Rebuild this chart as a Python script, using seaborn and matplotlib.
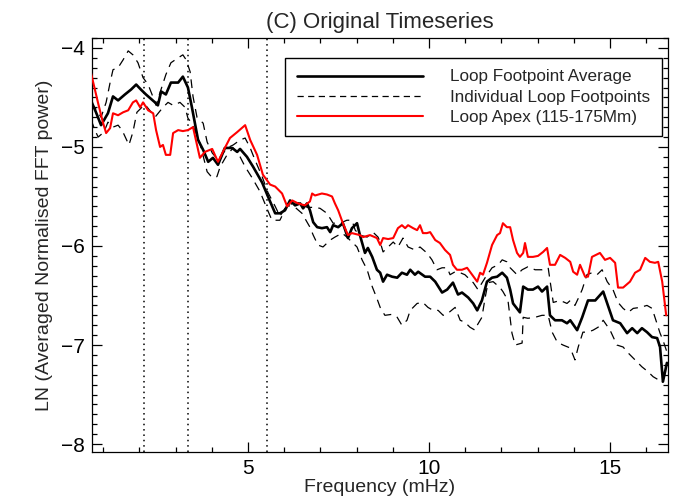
import matplotlib
matplotlib.use("Agg")
import matplotlib.pyplot as plt
import seaborn as sns
import pandas as pd
from matplotlib.ticker import MultipleLocator
from matplotlib.lines import Line2D

# ---------------- data ----------------
avg_freq = [0.66, 0.80, 0.94, 1.13, 1.27, 1.41, 1.60, 1.77, 1.91, 2.04,
            2.18, 2.43, 2.51, 2.60, 2.73, 2.87, 3.07, 3.20, 3.34, 3.45,
            3.62, 3.76, 3.90, 4.03, 4.17, 4.36, 4.56, 4.70, 4.78, 4.97,
            5.14, 5.39, 5.55, 5.75, 5.88, 6.02, 6.16, 6.30, 6.44, 6.52,
            6.63, 6.71, 6.80, 6.91, 7.04, 7.18, 7.27, 7.35, 7.49, 7.62,
            7.76, 7.87, 8.01, 8.09, 8.23, 8.31, 8.43, 8.56, 8.65, 8.73,
            8.84, 8.98, 9.12, 9.25, 9.39, 9.48, 9.61, 9.70, 9.89, 10.03,
            10.17, 10.36, 10.50, 10.66, 10.80, 10.91, 11.08, 11.22, 11.33, 11.46,
            11.60, 11.74, 11.88, 12.02, 12.15, 12.24, 12.32, 12.51, 12.60, 12.73,
            12.87, 13.01, 13.12, 13.26, 13.34, 13.48, 13.67, 13.81, 13.90, 14.09,
            14.23, 14.39, 14.59, 14.81, 14.94, 15.08, 15.28, 15.47, 15.61, 15.75,
            15.88, 16.02, 16.16, 16.30, 16.38, 16.46, 16.57]
avg_power = [-4.53, -4.65, -4.78, -4.66, -4.49, -4.53, -4.47, -4.42, -4.37, -4.42,
             -4.47, -4.55, -4.58, -4.44, -4.47, -4.35, -4.35, -4.29, -4.40, -4.60,
             -4.93, -5.03, -5.15, -5.11, -5.18, -5.01, -5.01, -5.05, -5.02, -5.10,
             -5.20, -5.36, -5.50, -5.67, -5.67, -5.64, -5.54, -5.59, -5.57, -5.62,
             -5.57, -5.64, -5.76, -5.81, -5.82, -5.81, -5.86, -5.79, -5.81, -5.77,
             -5.92, -5.82, -5.77, -5.89, -6.07, -6.02, -6.11, -6.24, -6.27, -6.36,
             -6.29, -6.31, -6.32, -6.27, -6.29, -6.24, -6.29, -6.26, -6.31, -6.31,
             -6.36, -6.47, -6.44, -6.37, -6.49, -6.47, -6.52, -6.58, -6.65, -6.55,
             -6.36, -6.32, -6.31, -6.27, -6.32, -6.44, -6.58, -6.67, -6.41, -6.44,
             -6.44, -6.41, -6.46, -6.41, -6.70, -6.75, -6.75, -6.78, -6.75, -6.85,
             -6.72, -6.55, -6.55, -6.46, -6.60, -6.75, -6.78, -6.88, -6.83, -6.88,
             -6.83, -6.87, -6.92, -6.93, -7.02, -7.37, -7.18]

apex_freq = [0.66, 0.77, 0.86, 0.99, 1.08, 1.19, 1.27, 1.41, 1.55, 1.69,
             1.82, 1.91, 2.02, 2.10, 2.24, 2.38, 2.46, 2.57, 2.65, 2.73,
             2.85, 2.93, 3.07, 3.20, 3.34, 3.48, 3.67, 3.81, 4.01, 4.17,
             4.36, 4.50, 4.70, 4.92, 5.06, 5.25, 5.41, 5.61, 5.75, 5.94,
             6.08, 6.22, 6.38, 6.57, 6.71, 6.77, 6.85, 7.04, 7.18, 7.32,
             7.40, 7.49, 7.62, 7.76, 7.87, 8.09, 8.18, 8.37, 8.56, 8.65,
             8.73, 8.87, 9.01, 9.14, 9.25, 9.34, 9.42, 9.56, 9.67, 9.75,
             9.83, 9.94, 10.03, 10.17, 10.30, 10.44, 10.58, 10.66, 10.77, 10.91,
             11.05, 11.19, 11.33, 11.41, 11.49, 11.60, 11.74, 11.88, 11.96, 12.04,
             12.15, 12.24, 12.32, 12.43, 12.51, 12.60, 12.65, 12.73, 12.87, 13.01,
             13.15, 13.26, 13.34, 13.48, 13.62, 13.76, 13.90, 13.98, 14.09, 14.17,
             14.31, 14.39, 14.50, 14.72, 14.86, 15.00, 15.14, 15.22, 15.36, 15.55,
             15.69, 15.83, 15.97, 16.10, 16.24, 16.33, 16.44, 16.55]
apex_power = [-4.25, -4.42, -4.56, -4.75, -4.86, -4.81, -4.66, -4.68, -4.65, -4.63,
              -4.55, -4.53, -4.60, -4.55, -4.63, -4.66, -4.83, -5.00, -4.98, -5.08,
              -5.08, -4.86, -4.83, -4.84, -4.83, -4.80, -5.11, -5.05, -5.02, -5.15,
              -5.01, -4.91, -4.85, -4.78, -4.93, -5.08, -5.28, -5.38, -5.40, -5.47,
              -5.60, -5.54, -5.57, -5.59, -5.55, -5.47, -5.49, -5.47, -5.48, -5.50,
              -5.57, -5.64, -5.77, -5.89, -5.87, -5.89, -5.91, -5.89, -5.92, -5.99,
              -5.92, -5.93, -5.92, -5.82, -5.79, -5.82, -5.79, -5.82, -5.84, -5.79,
              -5.87, -5.87, -5.86, -5.94, -5.97, -6.04, -6.09, -6.19, -6.24, -6.24,
              -6.22, -6.29, -6.36, -6.27, -6.29, -6.17, -5.99, -5.89, -5.87, -5.77,
              -5.81, -5.81, -5.94, -6.07, -6.11, -6.07, -5.97, -6.11, -6.11, -6.10,
              -6.06, -6.02, -6.19, -6.19, -6.09, -6.12, -6.16, -6.26, -6.29, -6.19,
              -6.31, -6.31, -6.11, -6.07, -6.14, -6.12, -6.17, -6.42, -6.42, -6.36,
              -6.27, -6.24, -6.12, -6.16, -6.17, -6.16, -6.36, -6.70]

fp1_freq = [0.66, 0.80, 0.94, 1.08, 1.19, 1.27, 1.41, 1.55, 1.69, 1.82,
            1.96, 2.10, 2.24, 2.38, 2.46, 2.57, 2.73, 2.87, 3.07, 3.20,
            3.29, 3.40, 3.48, 3.59, 3.76, 3.87, 4.01, 4.17, 4.42, 4.59,
            4.78, 4.92, 5.06, 5.19, 5.39, 5.55, 5.75, 5.88, 6.02, 6.22,
            6.49, 6.63, 6.85, 6.99, 7.18, 7.35, 7.54, 7.73, 7.87, 7.96,
            8.09, 8.29, 8.45, 8.59, 8.65, 8.73, 8.87, 9.01, 9.14, 9.28,
            9.42, 9.61, 9.75, 9.94, 10.08, 10.22, 10.36, 10.50, 10.58, 10.72,
            10.86, 10.99, 11.13, 11.22, 11.35, 11.55, 11.74, 11.91, 12.02, 12.15,
            12.24, 12.43, 12.57, 12.73, 12.93, 13.12, 13.29, 13.43, 13.62, 13.81,
            13.90, 14.03, 14.12, 14.23, 14.36, 14.50, 14.64, 14.78, 14.92, 15.08,
            15.22, 15.36, 15.50, 15.64, 15.83, 16.02, 16.16, 16.24, 16.38, 16.46,
            16.57]
fp1_power = [-4.55, -4.62, -4.70, -4.55, -4.35, -4.22, -4.20, -4.12, -4.03, -4.07,
             -4.15, -4.30, -4.37, -4.50, -4.58, -4.45, -4.27, -4.15, -4.10, -4.07,
             -4.12, -4.24, -4.49, -4.70, -4.76, -4.95, -5.06, -5.13, -5.01, -4.98,
             -4.93, -4.91, -5.01, -5.13, -5.30, -5.46, -5.60, -5.70, -5.62, -5.57,
             -5.56, -5.61, -5.61, -5.62, -5.67, -5.77, -5.77, -5.74, -5.74, -5.84,
             -5.89, -5.91, -5.86, -5.91, -5.96, -6.06, -6.01, -5.96, -6.01, -5.92,
             -6.01, -6.04, -6.01, -6.07, -6.14, -6.24, -6.22, -6.22, -6.29, -6.26,
             -6.27, -6.29, -6.34, -6.37, -6.44, -6.32, -6.22, -6.19, -6.14, -6.16,
             -6.22, -6.29, -6.24, -6.21, -6.24, -6.24, -6.22, -6.57, -6.55, -6.58,
             -6.55, -6.60, -6.53, -6.44, -6.29, -6.27, -6.29, -6.24, -6.36, -6.44,
             -6.57, -6.63, -6.67, -6.63, -6.62, -6.60, -6.63, -6.72, -6.88, -6.95,
             -7.07]

fp2_freq = [0.66, 0.77, 0.86, 1.02, 1.13, 1.27, 1.41, 1.52, 1.71, 1.82,
            1.93, 2.15, 2.35, 2.43, 2.65, 2.79, 2.93, 3.12, 3.26, 3.34,
            3.45, 3.67, 3.87, 4.01, 4.14, 4.23, 4.42, 4.59, 4.78, 4.92,
            5.11, 5.33, 5.52, 5.66, 5.88, 6.08, 6.30, 6.49, 6.71, 6.80,
            6.93, 7.07, 7.27, 7.40, 7.60, 7.73, 7.87, 8.01, 8.15, 8.29,
            8.43, 8.56, 8.65, 8.78, 8.98, 9.12, 9.25, 9.39, 9.48, 9.67,
            9.83, 9.97, 10.11, 10.25, 10.39, 10.52, 10.72, 10.86, 10.99, 11.13,
            11.27, 11.33, 11.46, 11.55, 11.63, 11.77, 11.96, 12.04, 12.18, 12.29,
            12.38, 12.57, 12.60, 12.73, 12.93, 13.12, 13.29, 13.40, 13.54, 13.70,
            13.90, 14.03, 14.12, 14.25, 14.39, 14.53, 14.67, 14.81, 15.00, 15.19,
            15.36, 15.50, 15.69, 15.88, 16.05, 16.19, 16.33, 16.44, 16.52]
fp2_power = [-4.72, -4.83, -4.90, -4.85, -4.75, -4.80, -4.78, -4.83, -4.98, -4.85,
             -4.65, -4.57, -4.66, -4.70, -4.60, -4.55, -4.58, -4.55, -4.60, -4.71,
             -4.76, -4.96, -5.25, -5.31, -5.30, -5.20, -5.08, -5.01, -5.10, -5.20,
             -5.31, -5.45, -5.62, -5.74, -5.74, -5.59, -5.61, -5.67, -5.81, -5.89,
             -5.99, -6.01, -5.94, -5.91, -5.87, -5.91, -5.96, -6.01, -6.14, -6.24,
             -6.41, -6.53, -6.62, -6.70, -6.69, -6.72, -6.80, -6.75, -6.65, -6.58,
             -6.57, -6.62, -6.65, -6.65, -6.70, -6.68, -6.62, -6.75, -6.77, -6.82,
             -6.85, -6.80, -6.72, -6.52, -6.37, -6.36, -6.42, -6.46, -6.55, -6.88,
             -7.00, -6.98, -6.72, -6.73, -6.72, -6.70, -6.70, -6.87, -6.97, -7.00,
             -7.03, -7.15, -7.02, -6.87, -6.87, -6.85, -6.82, -6.75, -6.85, -7.00,
             -7.02, -7.08, -7.15, -7.22, -7.27, -7.32, -7.35, -7.38, -7.28]

marker_freqs = [2.12, 3.34, 5.52]
legend_labels = ["Loop Footpoint Average", "Individual Loop Footpoints",
                 "Loop Apex (115-175Mm)"]
x_major_ticks = [5, 10, 15]
y_major_ticks = [-8, -7, -6, -5, -4]

# ---------------- style ----------------
sns.set_style("ticks")
plt.rcParams["font.family"] = ["Liberation Sans", "DejaVu Sans"]
plt.rcParams["axes.unicode_minus"] = True

fig = plt.figure(figsize=(6.9, 5.01), dpi=100)
ax = fig.add_axes([92 / 690, 49 / 501, 576 / 690, 414 / 501])

for f in marker_freqs:
    ax.axvline(f, color="black", lw=1.1, linestyle=(0, (1, 2.5)), zorder=1)

dash = (0, (7, 5))
for fr, pw in [(fp1_freq, fp1_power), (fp2_freq, fp2_power)]:
    df = pd.DataFrame({"f": fr, "p": pw})
    sns.lineplot(data=df, x="f", y="p", ax=ax, color="black", lw=0.9,
                 sort=False, estimator=None, linestyle=dash, zorder=2)

df_avg = pd.DataFrame({"f": avg_freq, "p": avg_power})
sns.lineplot(data=df_avg, x="f", y="p", ax=ax, color="black", lw=1.9,
             sort=False, estimator=None, zorder=3)
df_apex = pd.DataFrame({"f": apex_freq, "p": apex_power})
sns.lineplot(data=df_apex, x="f", y="p", ax=ax, color="#ff0000", lw=1.5,
             sort=False, estimator=None, zorder=4)

ax.set_xlim(0.69, 16.60)
ax.set_ylim(-8.08, -3.90)
ax.set_xticks(x_major_ticks)
ax.set_yticks(y_major_ticks)
ax.xaxis.set_minor_locator(MultipleLocator(1))
ax.yaxis.set_minor_locator(MultipleLocator(0.1))
ax.tick_params(which="both", direction="in", top=True, right=True,
               width=0.9, colors="black", labelsize=15)
ax.tick_params(which="major", length=7, pad=5)
ax.tick_params(which="minor", length=3.5)
for s in ax.spines.values():
    s.set_linewidth(0.9)
    s.set_color("black")

ax.set_title("(C) Original Timeseries", fontsize=16, pad=7)
ax.set_xlabel("Frequency (mHz)", fontsize=14, labelpad=1)
ax.set_ylabel("LN (Averaged Normalised FFT power)", fontsize=14, labelpad=6)

handles = [Line2D([], [], color="black", lw=1.9),
           Line2D([], [], color="black", lw=0.9, linestyle=(0, (5, 3.5))),
           Line2D([], [], color="#ff0000", lw=1.5)]
leg = ax.legend(handles, legend_labels, loc="upper right",
                bbox_to_anchor=(0.99, 0.952), frameon=True, fancybox=False,
                edgecolor="black", framealpha=1, fontsize=12.3,
                handlelength=7.4, handletextpad=1.6, borderpad=0.68,
                labelspacing=0.3, borderaxespad=0)
leg.get_frame().set_linewidth(1.0)

fig.savefig("out.png", dpi=100)
